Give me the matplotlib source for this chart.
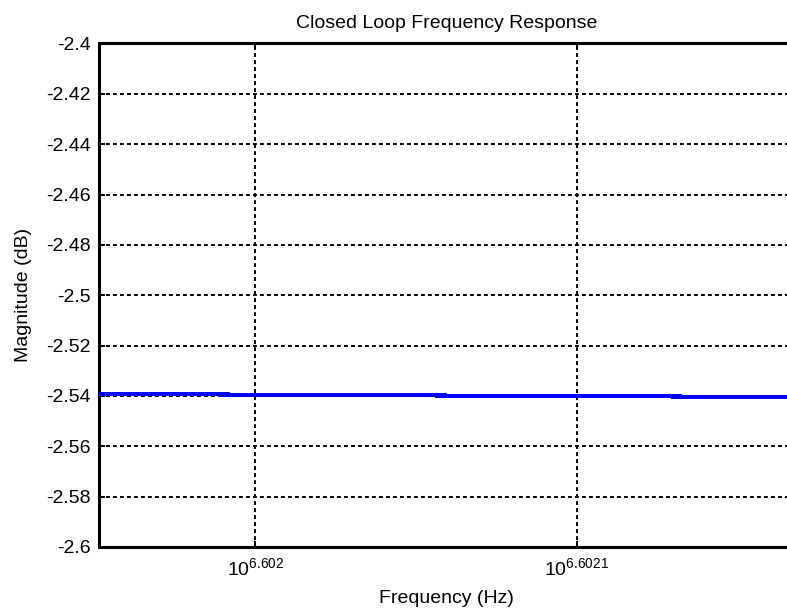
import matplotlib
matplotlib.use("Agg")
import matplotlib.pyplot as plt
from matplotlib.ticker import FixedLocator, NullLocator

plt.rcParams["font.family"] = ["Liberation Sans", "DejaVu Sans"]
plt.rcParams["axes.unicode_minus"] = False
plt.rcParams["mathtext.fontset"] = "custom"
plt.rcParams["mathtext.rm"] = "Liberation Sans"

# closed loop magnitude around 4 MHz
freq_hz = [3999000, 3999500, 4000000, 4000500, 4001000]
mag_db = [-2.53920, -2.53952, -2.53984, -2.54011, -2.54048]

xtick_vals = [10 ** 6.602, 10 ** 6.6021]
xtick_labels = [r"$\mathregular{10^{6.602}}$", r"$\mathregular{10^{6.6021}}$"]
ytick_vals = [-2.6, -2.58, -2.56, -2.54, -2.52, -2.5, -2.48, -2.46, -2.44, -2.42, -2.4]

fig = plt.figure(figsize=(7.87, 6.10), dpi=100)
# right edge of the box runs just past the figure border
ax = fig.add_axes([0.1258, 0.1033, 0.8826, 0.8254])

ax.plot(freq_hz, mag_db, color="#0000ff", linewidth=2.2, antialiased=False,
        solid_capstyle="butt", zorder=3)

ax.set_xscale("log")
ax.set_xlim(3999000, 4000990)
ax.set_ylim(-2.6, -2.4)

ax.xaxis.set_major_locator(FixedLocator(xtick_vals))
ax.xaxis.set_minor_locator(NullLocator())
ax.set_xticklabels(xtick_labels)
ax.set_yticks(ytick_vals)
ax.set_yticklabels([f"{v:g}" for v in ytick_vals])

ax.tick_params(direction="in", length=4.3, width=1.4, labelsize=14, pad=6,
               top=True, right=True)
ax.tick_params(axis="x", pad=7)

ax.grid(True, color="black", linestyle=(0, (2, 1.6)), linewidth=1.4)

for sp in ax.spines.values():
    sp.set_linewidth(2.2)

ax.set_title("Closed Loop Frequency Response", fontsize=14, pad=11)
ax.set_xlabel("Frequency (Hz)", fontsize=14, labelpad=8)
ax.set_ylabel("Magnitude (dB)", fontsize=14, labelpad=10)

fig.savefig("out.png", dpi=100, facecolor="white")
